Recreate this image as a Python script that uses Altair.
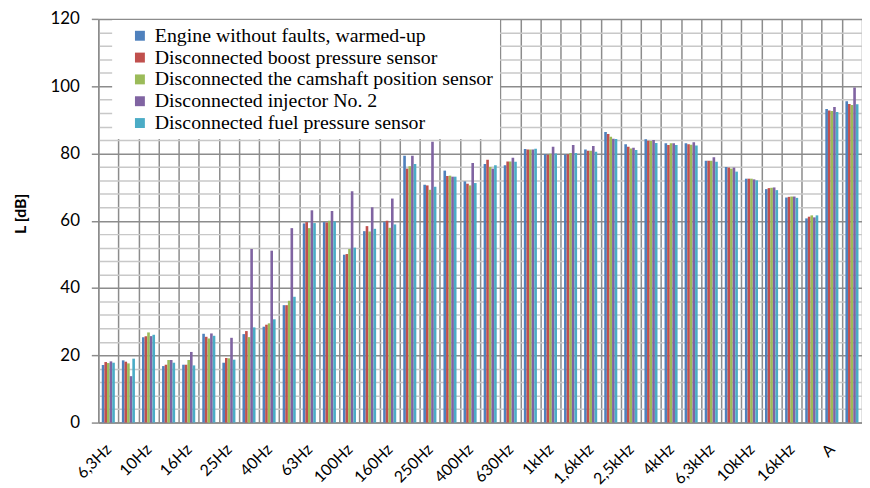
import json
import altair as alt
import pandas as pd

categories = ["6,3Hz", "8Hz", "10Hz", "12,5Hz", "16Hz", "20Hz", "25Hz", "31,5Hz", "40Hz", "50Hz",
              "63Hz", "80Hz", "100Hz", "125Hz", "160Hz", "200Hz", "250Hz", "315Hz", "400Hz", "500Hz",
              "630Hz", "800Hz", "1kHz", "1,25kHz", "1,6kHz", "2kHz", "2,5kHz", "3,15kHz", "4kHz", "5kHz",
              "6,3kHz", "8kHz", "10kHz", "12,5kHz", "16kHz", "20kHz", "A", "C"]
shown_labels = ["6,3Hz", "10Hz", "16Hz", "25Hz", "40Hz", "63Hz", "100Hz", "160Hz", "250Hz", "400Hz",
                "630Hz", "1kHz", "1,6kHz", "2,5kHz", "4kHz", "6,3kHz", "10kHz", "16kHz", "A"]

series_names = ["Engine without faults, warmed-up",
                "Disconnected boost pressure sensor",
                "Disconnected the camshaft position sensor",
                "Disconnected injector No. 2",
                "Disconnected  fuel pressure sensor"]
colors = ["#4F81BD", "#C0504D", "#9BBB59", "#8064A2", "#4BACC6"]

s_engine = [17.1, 18.5, 25.4, 16.8, 17.2, 26.4, 17.8, 26.3, 28.5, 34.9, 59.2, 59.6, 49.9, 56.9, 59.6,
            79.3, 70.7, 74.9, 71.7, 76.9, 76.5, 81.3, 79.8, 79.7, 81.2, 86.4, 82.7, 84.2, 83.0, 83.0,
            77.8, 76.0, 72.5, 69.4, 66.9, 60.7, 93.2, 95.5]
s_boost = [18.0, 18.1, 25.7, 17.2, 17.2, 25.5, 19.2, 27.2, 29.1, 34.9, 59.6, 59.5, 50.1, 58.4, 60.0,
           75.5, 70.5, 73.3, 71.0, 78.1, 77.6, 81.2, 79.6, 79.8, 80.8, 85.8, 82.0, 83.8, 82.5, 82.7,
           77.8, 75.8, 72.5, 69.7, 67.1, 61.2, 92.8, 94.7]
s_cam = [17.7, 17.6, 26.8, 18.6, 18.6, 25.0, 19.1, 25.4, 29.5, 36.2, 57.8, 60.0, 51.6, 56.8, 57.9,
         76.2, 69.2, 73.4, 70.5, 76.0, 77.6, 81.2, 79.9, 80.1, 80.8, 85.0, 81.5, 83.7, 83.0, 82.6,
         77.8, 75.5, 72.5, 69.8, 67.2, 61.6, 92.6, 94.4]
s_injector = [18.2, 13.8, 25.7, 18.6, 21.0, 26.5, 25.2, 51.6, 51.1, 57.8, 63.1, 62.9, 68.8, 64.0, 66.6,
              79.3, 83.5, 73.1, 77.2, 75.5, 78.7, 81.2, 82.0, 82.5, 82.2, 84.4, 81.7, 84.0, 83.0, 83.3,
              78.9, 75.8, 72.3, 69.9, 67.2, 61.0, 93.8, 99.6]
s_fuel = [17.8, 19.0, 26.1, 17.8, 17.0, 25.8, 18.7, 28.3, 30.7, 37.4, 59.3, 59.8, 52.0, 57.6, 58.9,
          76.9, 70.1, 73.1, 71.2, 76.5, 77.5, 81.4, 80.0, 80.1, 80.5, 84.3, 81.0, 83.1, 82.5, 82.4,
          77.5, 74.6, 72.0, 69.1, 66.8, 61.6, 92.3, 94.6]

all_series = [s_engine, s_boost, s_cam, s_injector, s_fuel]
rows = []
for i, cat in enumerate(categories):
    for name, vals in zip(series_names, all_series):
        rows.append({"band": cat, "series": name, "value": vals[i]})
df = pd.DataFrame(rows)

W, H = 770, 407
step = W / len(categories)
group = step * 0.65
off_range = [(step - group) / 2, (step + group) / 2]

label_expr = "indexof(" + json.dumps(shown_labels) + ", datum.value) >= 0 ? datum.value : ''"
dark = "#8c8c8c"
light = "#c8c8c8"
major = "datum.value % 20 === 0"

chart = alt.Chart(df).mark_bar(strokeWidth=0).encode(
    x=alt.X("band:N", sort=categories,
            scale=alt.Scale(paddingInner=0, paddingOuter=0),
            axis=alt.Axis(title=None, labelAngle=-45, labelAlign="right", labelBaseline="middle",
                          labelExpr=label_expr, labelOverlap=False, tickBand="extent",
                          grid=True, gridColor=dark, gridWidth=1.5, ticks=False,
                          domainColor=dark, domainWidth=1.5,
                          labelFont="Lato", labelFontSize=16, labelColor="#000000",
                          labelPadding=24)),
    xOffset=alt.XOffset("series:N", sort=series_names,
                        scale=alt.Scale(range=off_range, paddingInner=0, paddingOuter=0)),
    y=alt.Y("value:Q", scale=alt.Scale(domain=[0, 120], nice=False),
            axis=alt.Axis(values=list(range(0, 121, 4)),
                          labelExpr="datum.value % 20 === 0 ? datum.label : ''",
                          gridColor={"condition": {"test": major, "value": dark}, "value": light},
                          gridWidth=1.5,
                          ticks=True, tickSize=7, tickWidth=1.5,
                          tickColor={"condition": {"test": major, "value": dark}, "value": "transparent"},
                          domainColor=dark, domainWidth=1.5,
                          labelFont="Lato", labelFontSize=17, labelColor="#000000",
                          labelPadding=12,
                          title="L [dB]", titleFont="Lato", titleFontSize=16,
                          titleFontWeight="bold", titleColor="#000000",
                          titleX=-70, titleY=196, titleAngle=-90,
                          titleAlign="center", titleBaseline="bottom")),
    color=alt.Color("series:N", sort=series_names,
                    scale=alt.Scale(domain=series_names, range=colors),
                    legend=alt.Legend(title=None, orient="none", legendX=14, legendY=1,
                                      fillColor="white", padding=6, symbolType="square",
                                      symbolSize=100, symbolOffset=12, symbolStrokeWidth=0,
                                      labelFont="Liberation Serif", labelFontSize=20,
                                      labelOffset=5,
                                      labelColor="#000000", rowPadding=2, labelLimit=800)),
).properties(
    width=W, height=H,
    autosize=alt.AutoSizeParams(type="none"),
    padding={"left": 91, "top": 9, "right": 0, "bottom": 68},
).configure_view(strokeWidth=0)

chart.save("out.html", embed_options={"renderer": "svg", "actions": False})
